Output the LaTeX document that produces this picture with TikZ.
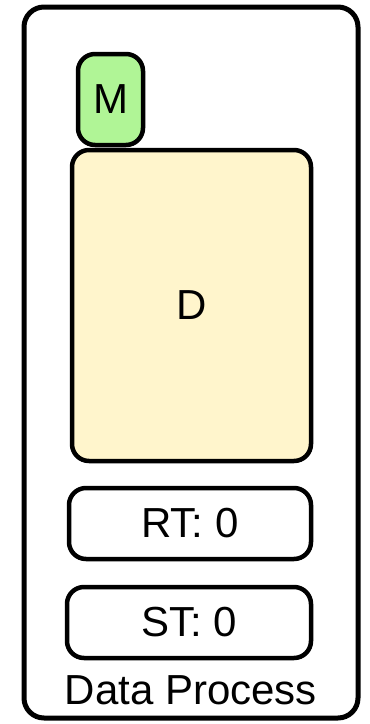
\documentclass[tikz,border=0pt]{standalone}
\usepackage{fontspec}
\setmainfont{Liberation Sans}
\begin{document}
\begin{tikzpicture}[x=1pt,y=-1pt,
  box/.style={draw=black, line width=4.5pt, rounded corners=17pt, inner sep=0pt, font=\fontsize{42}{46}\selectfont},
]
\useasboundingbox (0,0) rectangle (370,724);
\node[box, line width=5pt, rounded corners=20pt, minimum width=334pt, minimum height=711pt] (outer) at (191,362.5) {};
\node[box, fill={rgb,255:red,176;green,245;blue,150}, minimum width=65pt, minimum height=91pt] (m) at (110.5,99.5) {M};
\node[box, fill={rgb,255:red,255;green,245;blue,204}, minimum width=239pt, minimum height=311pt] (d) at (191.5,305.5) {D};
\node[box, fill=white, minimum width=242pt, minimum height=71pt] (rt) at (190,523.5) {RT: 0};
\node[box, fill=white, minimum width=244pt, minimum height=71pt] (st) at (189,622.5) {ST: 0};
\node[font=\fontsize{42}{46}\selectfont, inner sep=0pt] (lbl) at (191,690) {Data Process};
\end{tikzpicture}
\end{document}
